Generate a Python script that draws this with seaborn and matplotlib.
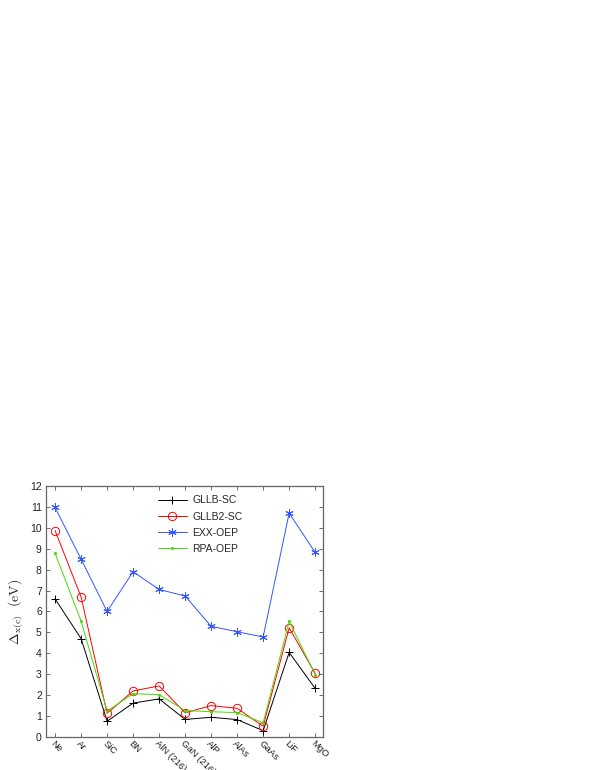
import matplotlib
matplotlib.use('Agg')
import matplotlib.pyplot as plt
import pandas as pd
import seaborn as sns

# values
materials = ['Ne', 'Ar', 'SiC', 'BN', 'AlN (216)', 'GaN (216)', 'AlP', 'AlAs',
             'GaAs', 'LiF', 'MgO']
gllb_sc = [6.60, 4.70, 0.75, 1.62, 1.82, 0.84, 0.94, 0.83, 0.30, 4.04, 2.32]
gllb2_sc = [9.87, 6.69, 1.13, 2.20, 2.44, 1.15, 1.50, 1.37, 0.51, 5.22, 3.04]
exx_oep = [10.97, 8.50, 6.00, 7.90, 7.05, 6.74, 5.29, 5.03, 4.78, 10.70, 8.82]
rpa_oep = [8.78, 5.54, 1.24, 2.07, 2.02, 1.26, 1.21, 1.16, 0.68, 5.53, 2.98]

sns.set_style('ticks')
plt.rcParams['font.family'] = ['Liberation Sans', 'DejaVu Sans']
plt.rcParams['mathtext.fontset'] = 'cm'

pos = list(range(1, len(materials) + 1))
df = pd.DataFrame({'pos': pos, 'GLLB-SC': gllb_sc, 'GLLB2-SC': gllb2_sc,
                   'EXX-OEP': exx_oep, 'RPA-OEP': rpa_oep})

fig = plt.figure(figsize=(5.95, 7.7), dpi=100)
ax = fig.add_axes([0.0773, 0.0429, 0.4655, 0.3260])

styles = [
    ('GLLB-SC', '#000000', '+', 6, 'full'),
    ('GLLB2-SC', '#ff0000', 'o', 6, 'none'),
    ('EXX-OEP', '#3355ff', (6, 2, 0), 6, 'full'),
    ('RPA-OEP', '#44dd00', '.', 3, 'full'),
]
for name, color, marker, ms, fill in styles:
    sns.lineplot(data=df, x='pos', y=name, ax=ax, color=color, marker=marker,
                 markersize=ms, fillstyle=fill, markeredgecolor=color,
                 markeredgewidth=0.7, linewidth=0.7, label=name)

ax.set_xlim(0.65, 11.3)
ax.set_ylim(0, 12)
ax.set_yticks(range(0, 13))
ax.set_xticks(pos)
ax.set_xticklabels(materials, rotation=-45, ha='left', va='top',
                   rotation_mode='anchor', fontsize=6.8, color='#222222')
ax.tick_params(axis='y', labelsize=7.5, labelcolor='#222222', pad=3)
ax.tick_params(axis='x', pad=1.5)
ax.tick_params(direction='in', length=3, width=0.6, color='#555555',
               top=True, right=True)
for s in ax.spines.values():
    s.set_color('#666666')
    s.set_linewidth(0.9)
    s.set_visible(True)

ax.set_xlabel('')
ax.set_ylabel(r'$\Delta_{\mathrm{x(c)}}\ \ \mathrm{(eV)}$', fontsize=10, labelpad=4)

ax.legend(loc='upper left', bbox_to_anchor=(0.37, 1.0), frameon=False,
          fontsize=7.5, handlelength=2.8, handletextpad=0.5, labelspacing=0.6)

fig.savefig('out.png', dpi=100)
